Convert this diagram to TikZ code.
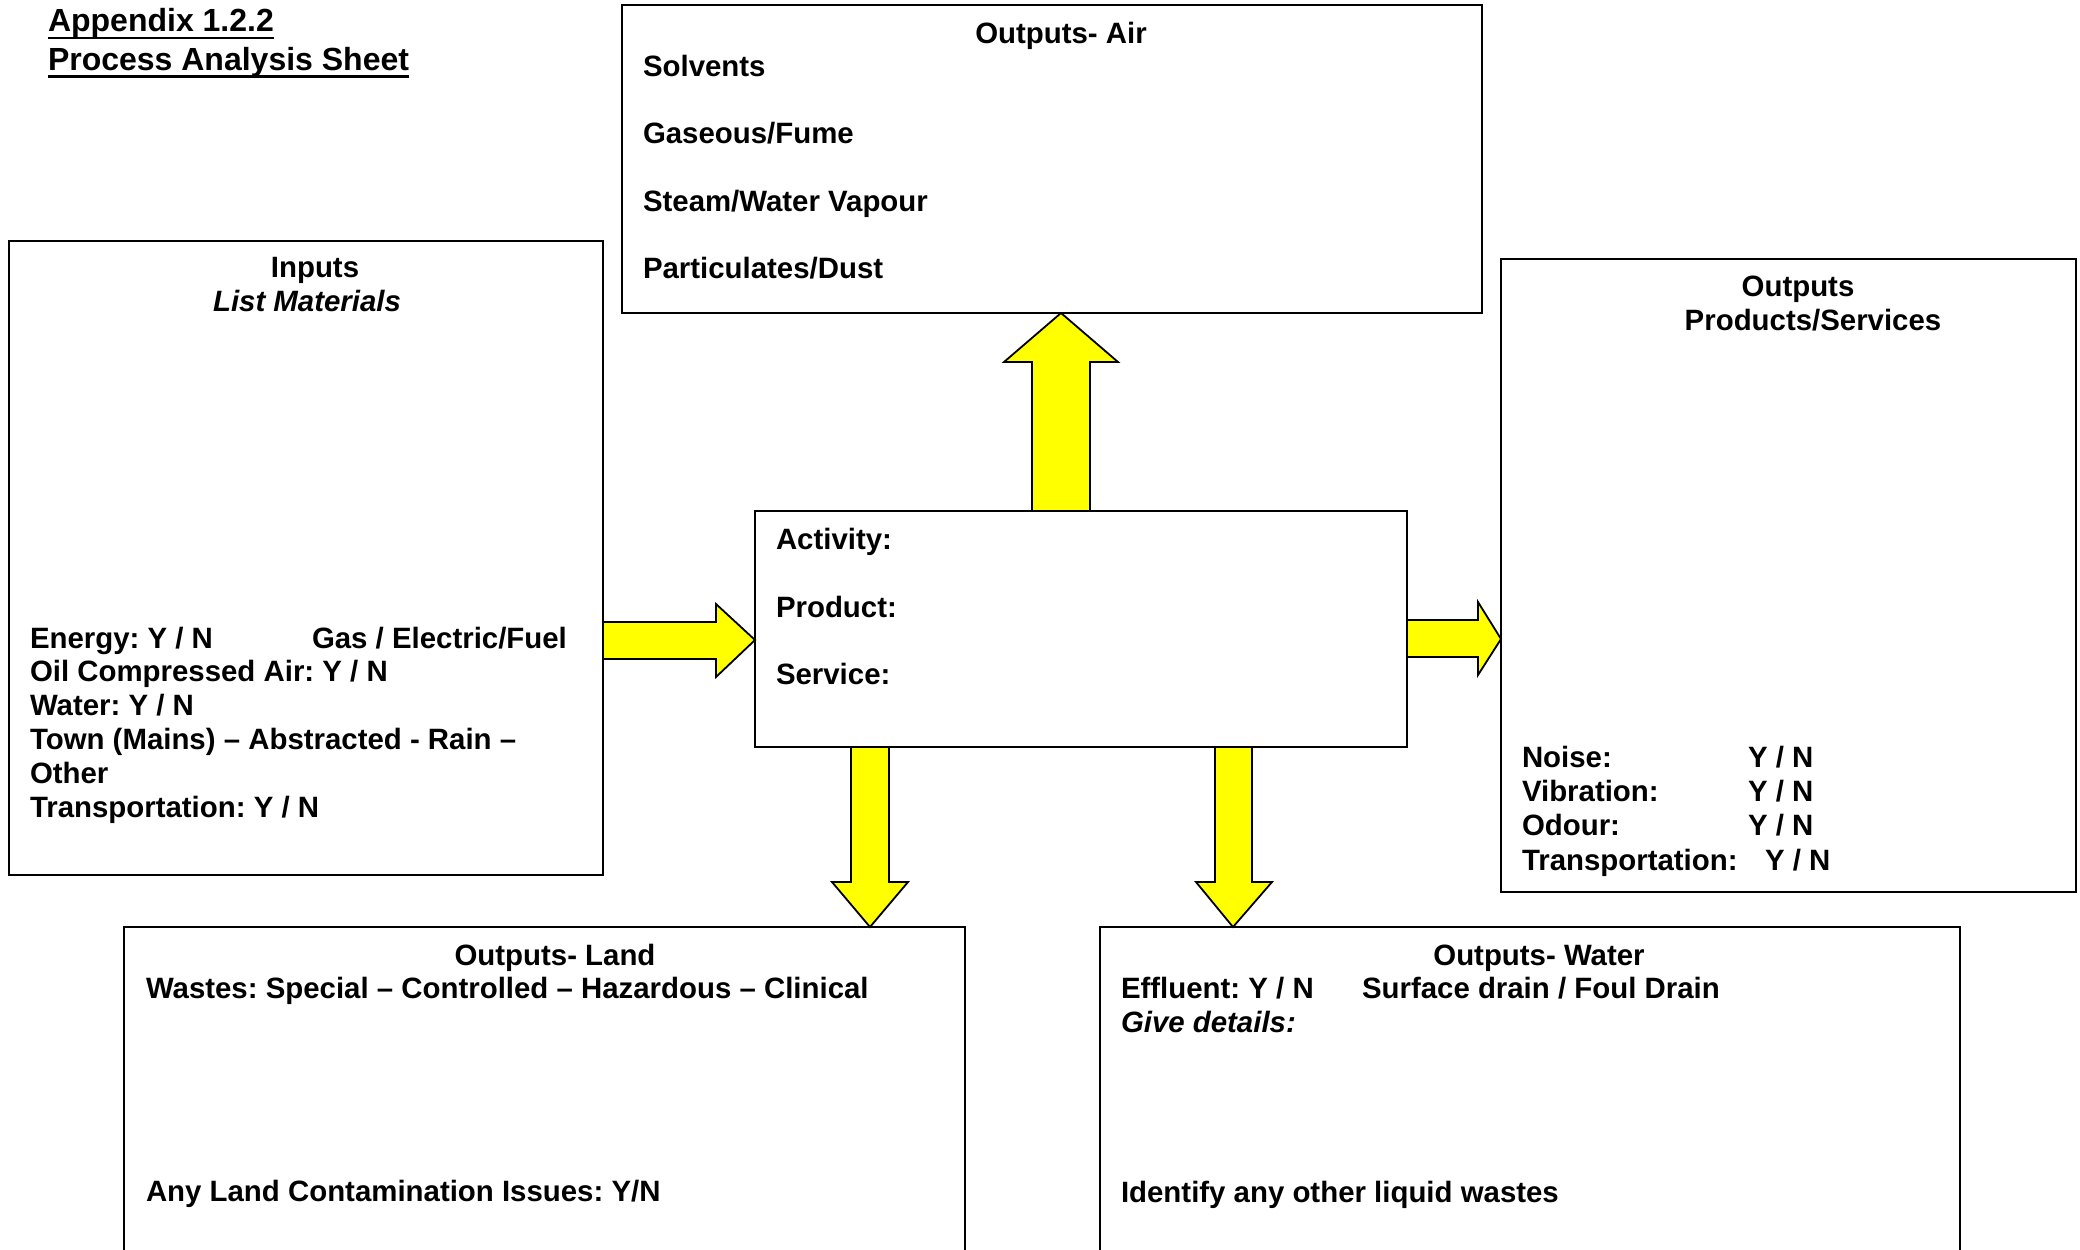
\documentclass[tikz,border=0pt]{standalone}
\usepackage{fontspec}
\setmainfont{Liberation Sans}
\usetikzlibrary{backgrounds}
\newcommand\mybody{\fontsize{29.4}{33.8}\selectfont}
\newcommand\mytitle{\fontsize{32}{38}\selectfont}
\definecolor{arrowyellow}{RGB}{255,255,0}
\frenchspacing
\begin{document}
\begin{tikzpicture}[x=1pt,y=-1pt,
  box/.style={draw, line width=2pt, rectangle, inner sep=0pt, outer sep=0pt, anchor=north west},
  txt/.style={inner sep=0pt, outer sep=0pt, anchor=base west, font=\bfseries\mybody},
  ctxt/.style={txt, anchor=base},
  itxt/.style={txt, font=\bfseries\itshape\mybody},
  ttl/.style={inner sep=0pt, outer sep=0pt, anchor=base west, font=\bfseries\mytitle},
  uline/.style={line width=2.6pt},
  blockarrow/.style={fill=arrowyellow, draw=black, line width=1.8pt, line join=miter}
]
\useasboundingbox (0,0) rectangle (2080,1250);
\clip (0,0) rectangle (2080,1250);

% title
\node[ttl] (t1) at (48,31.7) {Appendix 1.2.2};
\node[ttl] (t2) at (48,70) {Process Analysis Sheet};
\draw[uline] ([yshift=-6.3pt]t1.base west) -- ([yshift=-6.3pt]t1.base east);
\draw[uline] ([yshift=-6.3pt]t2.base west) -- ([yshift=-6.3pt]t2.base east);

% boxes
\node[box, minimum width=860pt, minimum height=308pt] (air) at (622,5) {};
\node[box, minimum width=594pt, minimum height=634pt] (inp) at (9,241) {};
\node[box, minimum width=575pt, minimum height=633pt] (prod) at (1501,259) {};
\node[box, minimum width=652pt, minimum height=236pt] (act) at (755,511) {};
\node[box, minimum width=841pt, minimum height=400pt] (land) at (124,927) {};
\node[box, minimum width=860pt, minimum height=400pt] (water) at (1100,927) {};

% arrows
\begin{scope}[on background layer]
\draw[blockarrow] (inp.east |- 0,622) -- (716,622) -- (716,604) -- (act.west |- 0,640) -- (716,677) -- (716,659) -- (inp.east |- 0,659);
\draw[blockarrow] (act.east |- 0,620) -- (1478,620) -- (1478,602) -- (prod.west |- 0,639) -- (1478,675) -- (1478,657) -- (act.east |- 0,657);
\draw[blockarrow] (1032,0 |- act.north) -- (1032,362) -- (1004,362) -- (1061,0 |- air.south) -- (1118,362) -- (1090,362) -- (1090,0 |- act.north);
\draw[blockarrow] (851,0 |- act.south) -- (851,882) -- (832,882) -- (870,0 |- land.north) -- (908,882) -- (889,882) -- (889,0 |- act.south);
\draw[blockarrow] (1215,0 |- act.south) -- (1215,882) -- (1196,882) -- (1233,0 |- water.north) -- (1272,882) -- (1252,882) -- (1252,0 |- act.south);
\end{scope}

% air texts
\node[ctxt] (airh) at (1061,43) {Outputs- Air};
\node[txt] (air1) at (643,76) {Solvents};
\node[txt] (air2) at (643,143) {Gaseous/Fume};
\node[txt] (air3) at (643,211) {Steam/Water Vapour};
\node[txt] (air4) at (643,278) {Particulates/Dust};

% inputs texts
\node[ctxt] (inph) at (315,277.5) {Inputs};
\node[itxt, anchor=base] (inps) at (307,311) {List Materials};
\node[txt] (inp1) at (30,648) {Energy: Y / N};
\node[txt] (inp1b) at (312,648) {Gas / Electric/Fuel};
\node[txt] (inp2) at (30,681.8) {Oil Compressed Air: Y / N};
\node[txt] (inp3) at (30,715.6) {Water: Y / N};
\node[txt] (inp4) at (30,749.4) {Town (Mains) – Abstracted - Rain –};
\node[txt] (inp5) at (30,783.2) {Other};
\node[txt] (inp6) at (30,817) {Transportation: Y / N};

% products texts
\node[ctxt] (prodh) at (1798,296) {Outputs};
\node[ctxt] (prods) at (1813,330) {Products/Services};
\node[txt] (prod1) at (1522,767) {Noise:};
\node[txt] (prod1b) at (1748,767) {Y / N};
\node[txt] (prod2) at (1522,801.5) {Vibration:};
\node[txt] (prod2b) at (1748,801.5) {Y / N};
\node[txt] (prod3) at (1522,835.5) {Odour:};
\node[txt] (prod3b) at (1748,835.5) {Y / N};
\node[txt] (prod4) at (1522,870) {Transportation:};
\node[txt] (prod4b) at (1765,870) {Y / N};

% activity texts
\node[txt] (act1) at (776,549.5) {Activity:};
\node[txt] (act2) at (776,617) {Product:};
\node[txt] (act3) at (776,684.5) {Service:};

% land texts
\node[ctxt] (landh) at (555,965) {Outputs- Land};
\node[txt] (land1) at (146,998) {Wastes: Special – Controlled – Hazardous – Clinical};
\node[txt] (land2) at (146,1201) {Any Land Contamination Issues: Y/N};

% water texts
\node[ctxt] (waterh) at (1539,965) {Outputs- Water};
\node[txt] (water1) at (1121,998) {Effluent: Y / N};
\node[txt] (water1b) at (1362,998) {Surface drain / Foul Drain};
\node[itxt] (water2) at (1121,1032) {Give details:};
\node[txt] (water3) at (1121,1202) {Identify any other liquid wastes};
\end{tikzpicture}
\end{document}
